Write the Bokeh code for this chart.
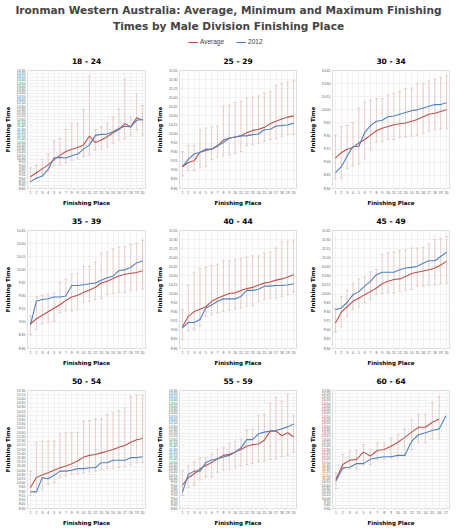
from bokeh.plotting import figure
from bokeh.models import (ColumnDataSource, Whisker, TeeHead, FixedTicker, Range1d,
                          Title, Legend, LegendItem)
from bokeh.layouts import column, row
from bokeh.embed import file_html
from bokeh.resources import INLINE

title_line1 = "Ironman Western Australia: Average, Minimum and Maximum Finishing"
title_line2 = "Times by Male Division Finishing Place"
series_names = ["Average", "2012"]
x_axis_title = "Finishing Place"
y_axis_title = "Finishing Time"

groups = ["18 - 24", "25 - 29", "30 - 34", "35 - 39", "40 - 44", "45 - 49",
          "50 - 54", "55 - 59", "60 - 64"]

# y axis tick settings per group (first tick, last tick, step in minutes)
y_tick_first = ["8:30", "8:30", "8:30", "8:30", "8:30", "8:30", "8:30", "8:30", "9:30"]
y_tick_last = ["14:30", "11:45", "10:45", "10:45", "11:45", "11:45", "15:30", "14:30", "15:30"]
y_tick_step = [10, 15, 15, 15, 15, 15, 15, 10, 10]

avg_18_24 = ["9:06", "9:18", "9:30", "9:42", "9:58", "10:11", "10:23", "10:30", "10:35", "10:43",
             "11:10", "10:50", "10:58", "11:08", "11:20", "11:30", "11:48", "11:38", "12:06", "11:58"]
y2012_18_24 = ["8:51", "9:01", "9:08", "9:28", "10:03", "10:05", "10:03", "10:10", "10:15", "10:30",
               "10:43", "11:12", "11:15", "11:16", "11:23", "11:33", "11:40", "11:38", "11:58", "12:01"]
min_18_24 = ["8:50", "9:00", "9:08", "9:23", "9:40", "9:43", "9:48", "9:56", "10:00", "10:08",
             "10:13", "10:28", "10:30", "10:36", "10:48", "10:58", "11:03", "11:13", "11:28", "11:13"]
max_18_24 = ["9:33", "9:40", "9:58", "10:15", "10:55", "11:03", "11:30", "11:46", "11:48", "12:30",
             "14:13", "11:28", "11:38", "11:48", "12:08", "12:33", "14:03", "12:08", "13:18", "12:43"]

avg_25_29 = ["9:06", "9:13", "9:16", "9:30", "9:33", "9:35", "9:41", "9:50", "9:53", "9:55",
             "9:57", "10:02", "10:06", "10:08", "10:11", "10:17", "10:21", "10:25", "10:28", "10:30"]
y2012_25_29 = ["9:06", "9:18", "9:27", "9:30", "9:35", "9:35", "9:40", "9:46", "9:53", "9:55",
               "9:57", "9:57", "9:59", "10:00", "10:07", "10:08", "10:13", "10:14", "10:15", "10:18"]
min_25_29 = ["8:51", "9:00", "9:00", "9:04", "9:07", "9:18", "9:22", "9:24", "9:26", "9:28",
             "9:31", "9:41", "9:42", "9:45", "9:48", "9:51", "9:52", "9:56", "9:59", "10:00"]
max_25_29 = ["9:31", "9:41", "9:41", "10:07", "10:10", "10:12", "10:13", "10:46", "10:48", "10:52",
             "10:54", "10:59", "11:01", "11:03", "11:08", "11:10", "11:20", "11:24", "11:26", "11:28"]

avg_30_34 = ["9:05", "9:11", "9:15", "9:17", "9:22", "9:26", "9:31", "9:36", "9:39", "9:41",
             "9:43", "9:44", "9:45", "9:47", "9:49", "9:52", "9:55", "9:56", "9:58", "10:00"]
y2012_30_34 = ["8:48", "8:55", "9:07", "9:18", "9:18", "9:34", "9:42", "9:47", "9:48", "9:52",
               "9:53", "9:55", "9:57", "9:59", "10:00", "10:02", "10:04", "10:06", "10:06", "10:08"]
min_30_34 = ["8:41", "8:42", "8:53", "8:56", "8:58", "9:04", "9:15", "9:23", "9:24", "9:26",
             "9:26", "9:28", "9:29", "9:30", "9:31", "9:33", "9:35", "9:37", "9:38", "9:39"]
max_30_34 = ["9:31", "9:41", "9:42", "9:45", "10:02", "10:09", "10:11", "10:13", "10:13", "10:17",
             "10:19", "10:21", "10:24", "10:25", "10:30", "10:30", "10:33", "10:35", "10:37", "10:39"]

avg_35_39 = ["8:58", "9:04", "9:08", "9:12", "9:16", "9:20", "9:25", "9:29", "9:31", "9:34",
             "9:37", "9:40", "9:45", "9:47", "9:50", "9:53", "9:55", "9:56", "9:57", "9:59"]
y2012_35_39 = ["8:57", "9:24", "9:26", "9:27", "9:29", "9:29", "9:30", "9:42", "9:42", "9:43",
               "9:44", "9:45", "9:48", "9:51", "9:53", "9:59", "10:00", "10:03", "10:08", "10:10"]
min_35_39 = ["8:46", "8:52", "8:58", "9:00", "9:01", "9:11", "9:13", "9:13", "9:15", "9:23",
             "9:24", "9:26", "9:27", "9:32", "9:33", "9:34", "9:34", "9:36", "9:37", "9:38"]
max_35_39 = ["9:07", "9:29", "9:31", "9:32", "9:33", "9:46", "9:49", "9:55", "9:56", "10:04",
             "10:04", "10:09", "10:19", "10:20", "10:24", "10:26", "10:27", "10:29", "10:30", "10:34"]

avg_40_44 = ["9:06", "9:23", "9:31", "9:35", "9:39", "9:48", "9:53", "9:57", "10:01", "10:02",
             "10:06", "10:09", "10:11", "10:15", "10:18", "10:20", "10:23", "10:25", "10:28", "10:32"]
y2012_40_44 = ["9:04", "9:13", "9:13", "9:18", "9:37", "9:42", "9:48", "9:52", "9:52", "9:52",
               "9:56", "10:06", "10:06", "10:08", "10:13", "10:13", "10:14", "10:14", "10:15", "10:17"]
min_40_44 = ["8:45", "8:59", "9:02", "9:07", "9:23", "9:26", "9:29", "9:31", "9:33", "9:35",
             "9:37", "9:40", "9:41", "9:48", "9:51", "9:53", "9:53", "9:56", "9:59", "10:03"]
max_40_44 = ["9:34", "10:14", "10:36", "10:42", "10:44", "10:47", "10:49", "10:55", "10:55", "10:57",
             "10:58", "11:01", "11:03", "11:03", "11:08", "11:09", "11:16", "11:26", "11:27", "11:28"]

avg_45_49 = ["9:12", "9:30", "9:39", "9:48", "9:53", "9:59", "10:04", "10:10", "10:17", "10:21",
             "10:24", "10:25", "10:29", "10:34", "10:36", "10:38", "10:40", "10:43", "10:48", "10:54"]
y2012_45_49 = ["9:34", "9:37", "9:46", "9:59", "10:04", "10:13", "10:21", "10:32", "10:36", "10:36",
               "10:36", "10:40", "10:43", "10:44", "10:46", "10:51", "10:55", "10:55", "11:02", "11:09"]
min_45_49 = ["8:57", "9:06", "9:23", "9:35", "9:39", "9:46", "9:51", "9:59", "10:01", "10:02",
             "10:02", "10:04", "10:06", "10:08", "10:13", "10:13", "10:14", "10:15", "10:17", "10:18"]
max_45_49 = ["9:36", "9:56", "10:06", "10:18", "10:25", "10:28", "10:37", "10:41", "11:05", "11:08",
             "11:09", "11:12", "11:13", "11:16", "11:16", "11:17", "11:23", "11:30", "11:32", "11:35"]

avg_50_54 = ["9:44", "10:20", "10:29", "10:37", "10:46", "10:55", "11:01", "11:09", "11:19", "11:33",
             "11:39", "11:42", "11:48", "11:54", "12:00", "12:08", "12:14", "12:26", "12:35", "12:39"]
y2012_50_54 = ["9:29", "9:29", "10:20", "10:16", "10:28", "10:43", "10:43", "10:46", "10:52", "10:52",
               "10:55", "10:55", "11:13", "11:13", "11:22", "11:22", "11:22", "11:31", "11:31", "11:34"]
min_50_54 = ["9:17", "9:29", "9:38", "9:56", "10:02", "10:20", "10:26", "10:32", "10:34", "10:37",
             "10:40", "10:43", "10:49", "10:52", "10:52", "10:55", "10:59", "11:07", "11:13", "11:13"]
max_50_54 = ["10:43", "12:24", "12:30", "12:30", "12:30", "12:56", "12:59", "12:59", "13:01", "13:40",
             "13:43", "13:49", "13:49", "14:04", "14:10", "14:18", "14:28", "15:09", "15:12", "15:12"]

avg_55_59 = ["9:41", "10:04", "10:16", "10:31", "10:41", "10:50", "11:02", "11:12", "11:15", "11:22",
             "11:30", "11:40", "11:45", "11:47", "11:58", "12:26", "12:26", "12:12", "12:21", "12:08"]
y2012_55_59 = ["9:19", "10:14", "10:24", "10:24", "10:50", "10:58", "11:02", "11:07", "11:12", "11:22",
               "11:35", "12:00", "12:00", "12:18", "12:23", "12:26", "12:28", "12:33", "12:39", "12:48"]
min_55_59 = ["9:10", "9:34", "9:41", "9:57", "10:06", "10:06", "10:21", "10:27", "10:29", "10:34",
             "10:41", "10:44", "10:47", "10:52", "10:55", "11:00", "11:03", "11:08", "11:12", "11:22"]
max_55_59 = ["10:24", "10:39", "10:52", "11:05", "11:05", "11:15", "11:30", "11:35", "11:48", "11:55",
             "12:02", "12:29", "12:31", "13:13", "13:16", "13:51", "14:10", "13:57", "14:17", "13:13"]

avg_60_64 = ["10:59", "11:44", "11:57", "12:00", "12:22", "12:10", "12:27", "12:30", "12:40", "12:52",
             "13:07", "13:23", "13:38", "13:38", "13:53", "14:03", None]
y2012_60_64 = ["10:54", "11:34", "11:36", "11:47", "11:47", "12:00", "12:05", "12:08", "12:08", "12:12",
               "12:12", "12:55", "13:15", "13:21", "13:28", "13:33", "14:13"]
min_60_64 = ["10:31", "11:29", "11:31", "11:31", "11:45", "11:44", "12:00", "12:02", "12:05", "12:05",
             "12:10", "12:30", "12:50", "12:50", "13:02", "13:02", None]
max_60_64 = ["11:19", "12:15", "12:25", "12:27", "12:45", "12:30", "12:50", "12:50", "13:05", "13:15",
             "13:33", "13:59", "14:16", "14:16", "14:54", "15:12", None]

panel_data = [
    (avg_18_24, y2012_18_24, min_18_24, max_18_24),
    (avg_25_29, y2012_25_29, min_25_29, max_25_29),
    (avg_30_34, y2012_30_34, min_30_34, max_30_34),
    (avg_35_39, y2012_35_39, min_35_39, max_35_39),
    (avg_40_44, y2012_40_44, min_40_44, max_40_44),
    (avg_45_49, y2012_45_49, min_45_49, max_45_49),
    (avg_50_54, y2012_50_54, min_50_54, max_50_54),
    (avg_55_59, y2012_55_59, min_55_59, max_55_59),
    (avg_60_64, y2012_60_64, min_60_64, max_60_64),
]

RED = "#c0504d"
BLUE = "#4f81bd"
BAR = "#dfbdb6"
GRID = "#e9e9e9"
FONT = "Liberation Sans"
HEAVY = "DejaVu Sans"


def to_min(s):
    if s is None:
        return float("nan")
    h, m = s.split(":")
    return int(h) * 60 + int(m)


def fmt(m):
    return "%d:%02d" % (m // 60, m % 60)


def make_source(i):
    avg, y12, mn, mx = panel_data[i]
    return ColumnDataSource(dict(
        x=list(range(1, len(y12) + 1)),
        avg=[to_min(v) for v in avg],
        y12=[to_min(v) for v in y12],
        lower=[to_min(v) for v in mn],
        upper=[to_min(v) for v in mx],
    ))


col_w = [152, 152, 152]
col_left = [27, 27, 28]
col_right = [7, 8, 7]
ROW_H = 160


def style_axis(ax):
    ax.axis_label_text_font = HEAVY
    ax.axis_label_text_font_size = "5.5px"
    ax.axis_label_text_font_style = "bold"
    ax.axis_label_text_color = "#000000"
    ax.axis_label_standoff = 3
    ax.major_label_text_font = FONT
    ax.major_label_text_font_size = "3.5px"
    ax.major_label_text_color = "#595959"
    ax.major_label_standoff = 2
    ax.major_tick_line_color = None
    ax.minor_tick_line_color = None
    ax.major_tick_out = 0
    ax.major_tick_in = 0
    ax.minor_tick_out = 0
    ax.minor_tick_in = 0
    ax.axis_line_color = None


def make_panel(i):
    src = make_source(i)
    n = len(src.data["x"])
    places = list(range(1, n + 1))
    lo = to_min(y_tick_first[i])
    hi = to_min(y_tick_last[i])
    ticks = list(range(lo, hi + 1, y_tick_step[i]))
    c = i % 3
    p = figure(width=col_w[c], height=ROW_H, output_backend="svg", toolbar_location=None,
               x_range=Range1d(0.5, n + 0.5), y_range=Range1d(lo, hi),
               title=groups[i],
               min_border_left=col_left[c], min_border_right=col_right[c],
               min_border_top=22, min_border_bottom=18)
    p.title.align = "center"
    p.title.vertical_align = "middle"
    p.title.text_font = HEAVY
    p.title.text_font_size = "7.5px"
    p.title.text_font_style = "bold"
    p.title.text_color = "#000000"
    p.title.standoff = 8

    w = Whisker(base="x", lower="lower", upper="upper", source=src,
                line_color=BAR, line_width=0.7,
                upper_head=TeeHead(size=3, line_color=BAR, line_width=0.7),
                lower_head=TeeHead(size=3, line_color=BAR, line_width=0.7))
    p.add_layout(w)
    p.line("x", "avg", source=src, line_color=RED, line_width=1.1)
    p.line("x", "y12", source=src, line_color=BLUE, line_width=1.1)

    p.xaxis.ticker = FixedTicker(ticks=places)
    p.yaxis.ticker = FixedTicker(ticks=ticks)
    p.yaxis.major_label_overrides = {t: fmt(t) for t in ticks}
    p.xaxis.axis_label = x_axis_title
    p.yaxis.axis_label = y_axis_title
    style_axis(p.xaxis[0])
    style_axis(p.yaxis[0])
    p.grid.grid_line_color = GRID
    p.grid.grid_line_width = 0.6
    p.outline_line_color = "#c8c8c8"
    p.outline_line_width = 0.6
    return p


# header with the main title and the legend
# (the figure's own title is drawn outermost, the added Title below it)
hdr = figure(width=456, height=48, output_backend="svg", toolbar_location=None,
             x_range=Range1d(0, 1), y_range=Range1d(0, 1), title=title_line1,
             min_border=0)
hdr.title.align = "center"
hdr.title.text_font = HEAVY
hdr.title.text_font_size = "10.6px"
hdr.title.text_font_style = "bold"
hdr.title.standoff = 2
t2 = Title(text=title_line2, align="center", text_font=HEAVY, text_font_size="10.6px",
           text_font_style="bold", standoff=2)
hdr.add_layout(t2, "above")
hdr.axis.visible = False
hdr.grid.visible = False
hdr.outline_line_color = None
# legend renderers carry the first panel's data, which lies outside this header's ranges
hsrc = make_source(0)
r_avg = hdr.line("x", "avg", source=hsrc, line_color=RED, line_width=1.1)
r_y12 = hdr.line("x", "y12", source=hsrc, line_color=BLUE, line_width=1.1)
leg = Legend(items=[LegendItem(label=series_names[0], renderers=[r_avg]),
                    LegendItem(label=series_names[1], renderers=[r_y12])],
             location="bottom_center", orientation="horizontal",
             label_text_font=FONT, label_text_font_size="6.5px", label_text_color="#404040",
             glyph_width=10, glyph_height=6, label_standoff=2, spacing=12,
             padding=0, margin=3, border_line_color=None, background_fill_alpha=0,
             label_height=6)
hdr.add_layout(leg, "center")

panels = [make_panel(i) for i in range(9)]
layout = column(hdr,
                row(panels[0], panels[1], panels[2]),
                row(panels[3], panels[4], panels[5]),
                row(panels[6], panels[7], panels[8]))

open("out.html", "w").write(file_html(layout, INLINE))
